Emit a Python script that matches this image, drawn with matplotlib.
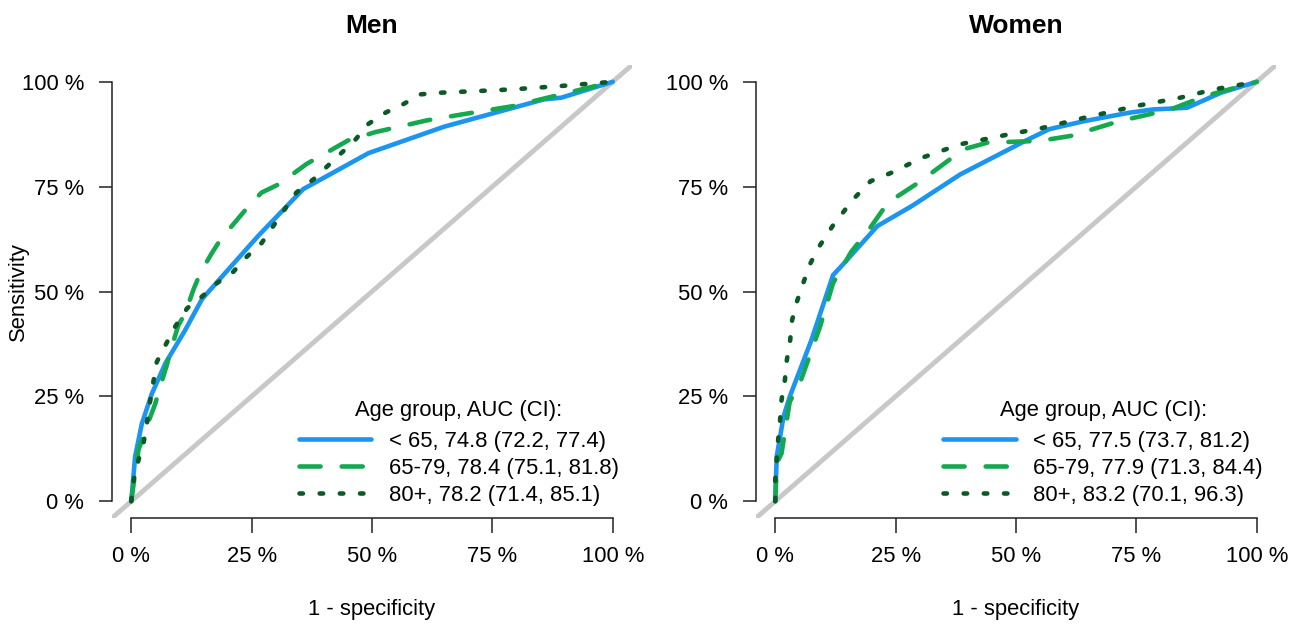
import matplotlib
matplotlib.use("Agg")
import matplotlib.pyplot as plt
import numpy as np

plt.rcParams['font.family'] = ['Liberation Sans', 'DejaVu Sans']

# ROC curves: (1 - specificity, sensitivity) by age group
men_lt65_fpr = [0, 0.008, 0.022, 0.043, 0.071, 0.112, 0.147, 0.264, 0.357, 0.493, 0.65, 0.857, 0.893, 1]
men_lt65_tpr = [0, 0.106, 0.185, 0.257, 0.329, 0.408, 0.482, 0.633, 0.744, 0.83, 0.893, 0.958, 0.962, 1]

men_6579_fpr = [0, 0.005, 0.015, 0.029, 0.05, 0.06, 0.074, 0.084, 0.098, 0.112, 0.129, 0.143, 0.166,
                0.186, 0.25, 0.271, 0.307, 0.364, 0.45, 0.507, 0.614, 0.686, 0.793, 0.893, 1]
men_6579_tpr = [0, 0.042, 0.122, 0.169, 0.233, 0.273, 0.325, 0.368, 0.42, 0.448, 0.504, 0.543, 0.589,
                0.625, 0.712, 0.736, 0.756, 0.804, 0.86, 0.88, 0.908, 0.922, 0.942, 0.97, 1]

men_80_fpr = [0, 0.005, 0.015, 0.026, 0.033, 0.039, 0.046, 0.053, 0.071, 0.091, 0.116, 0.147, 0.178,
              0.212, 0.24, 0.271, 0.314, 0.343, 0.379, 0.414, 0.464, 0.493, 0.529, 0.564, 0.6, 0.643,
              0.721, 0.793, 0.893, 1]
men_80_tpr = [0, 0.05, 0.098, 0.142, 0.189, 0.237, 0.285, 0.332, 0.372, 0.416, 0.46, 0.488, 0.52,
              0.547, 0.583, 0.616, 0.688, 0.736, 0.768, 0.806, 0.86, 0.9, 0.927, 0.946, 0.97, 0.974,
              0.978, 0.982, 0.99, 1]

women_lt65_fpr = [0, 0.003, 0.01, 0.017, 0.03, 0.075, 0.12, 0.141, 0.212, 0.284, 0.384, 0.519, 0.569,
                  0.641, 0.734, 0.784, 0.855, 0.926, 1]
women_lt65_tpr = [0, 0.106, 0.153, 0.201, 0.249, 0.384, 0.539, 0.565, 0.656, 0.704, 0.779, 0.859, 0.887,
                  0.906, 0.926, 0.934, 0.938, 0.974, 1]

women_6579_fpr = [0, 0.003, 0.013, 0.03, 0.051, 0.093, 0.12, 0.158, 0.193, 0.234, 0.298, 0.391, 0.441,
                  0.549, 0.614, 0.714, 0.821, 0.893, 1]
women_6579_tpr = [0, 0.09, 0.114, 0.237, 0.281, 0.416, 0.52, 0.595, 0.645, 0.712, 0.76, 0.839, 0.855,
                  0.859, 0.871, 0.906, 0.934, 0.966, 1]

women_80_fpr = [0, 0.0, 0.003, 0.006, 0.01, 0.013, 0.02, 0.024, 0.031, 0.035, 0.045, 0.059, 0.073, 0.09,
                0.119, 0.162, 0.198, 0.241, 0.305, 0.384, 0.469, 0.555, 0.641, 0.748, 0.841, 0.912, 1]
women_80_tpr = [0, 0.05, 0.098, 0.146, 0.193, 0.241, 0.289, 0.336, 0.384, 0.432, 0.476, 0.523, 0.567,
                0.605, 0.656, 0.72, 0.763, 0.783, 0.819, 0.851, 0.871, 0.89, 0.914, 0.942, 0.962, 0.982, 1]

men_labels = ["< 65, 74.8 (72.2, 77.4)", "65-79, 78.4 (75.1, 81.8)", "80+, 78.2 (71.4, 85.1)"]
women_labels = ["< 65, 77.5 (73.7, 81.2)", "65-79, 77.9 (71.3, 84.4)", "80+, 83.2 (70.1, 96.3)"]

tick_vals = [0, 0.25, 0.5, 0.75, 1.0]
tick_labels = ["0 %", "25 %", "50 %", "75 %", "100 %"]

colors = ["#1b95ef", "#14a94e", "#0b5a26"]
dash_styles = [None, (0, (4.6, 4.6)), (0, (0.75, 3.65))]

FS = 15.8
LW = 3.3
W, H = 1298, 625
fig = plt.figure(figsize=(W / 100, H / 100), dpi=100)

ax_w = 520 / W
ax_h = 453 / H
ax_b = 1 - 518 / H
axes = [fig.add_axes([112 / W, ax_b, ax_w, ax_h]),
        fig.add_axes([756 / W, ax_b, ax_w, ax_h])]

panels = [
    ("Men", [(men_lt65_fpr, men_lt65_tpr), (men_6579_fpr, men_6579_tpr), (men_80_fpr, men_80_tpr)], men_labels),
    ("Women", [(women_lt65_fpr, women_lt65_tpr), (women_6579_fpr, women_6579_tpr), (women_80_fpr, women_80_tpr)], women_labels),
]

for i, (ax, (title, curves, labels)) in enumerate(zip(axes, panels)):
    ax.set_xlim(-0.04, 1.04)
    ax.set_ylim(-0.04, 1.04)
    ax.axline((0, 0), (1, 1), color="#c8c8c8", lw=3.5, zorder=1, solid_capstyle='butt')
    handles = []
    for (fx, ty), col, ds, lab in zip(curves, colors, dash_styles, labels):
        ln, = ax.plot(fx, ty, color=col, lw=LW, zorder=2,
                      solid_capstyle='round', dash_capstyle='round', solid_joinstyle='round',
                      dash_joinstyle='round', label=lab)
        if ds is not None:
            ln.set_linestyle(ds)
        handles.append(ln)

    for s in ["top", "right"]:
        ax.spines[s].set_visible(False)
    for s in ["left", "bottom"]:
        ax.spines[s].set_bounds(0, 1)
        ax.spines[s].set_color("#222222")
        ax.spines[s].set_linewidth(1.1)

    ax.set_xticks(tick_vals)
    ax.set_xticklabels(tick_labels)
    ax.set_yticks(tick_vals)
    ax.set_yticklabels(tick_labels)
    ax.tick_params(axis='x', length=10.5, width=1.1, color="#222222", pad=10, labelsize=FS)
    ax.tick_params(axis='y', length=9.5, width=1.1, color="#222222", pad=10.5, labelsize=FS)

    ax.text(0.5, (518 - 26) / 453, title, transform=ax.transAxes, ha='center', va='center',
            fontsize=19, fontweight='bold')
    ax.text(0.5, (518 - 610) / 453, "1 - specificity", transform=ax.transAxes,
            ha='center', va='center', fontsize=FS)
    if i == 0:
        ax.text((18 - 112) / 520, 0.5, "Sensitivity", transform=ax.transAxes, rotation=90,
                ha='center', va='center', fontsize=FS)

    leg = ax.legend(handles=handles, title="Age group, AUC (CI):", loc='lower right',
                    bbox_to_anchor=((619 - 112) / 520, (518 - 506) / 453),
                    frameon=False, fontsize=FS, title_fontsize=FS,
                    handlelength=3.3, handletextpad=0.8, labelspacing=0.28,
                    borderpad=0, borderaxespad=0)
    leg._legend_box.sep = 7

fig.savefig("out.png", dpi=100)
